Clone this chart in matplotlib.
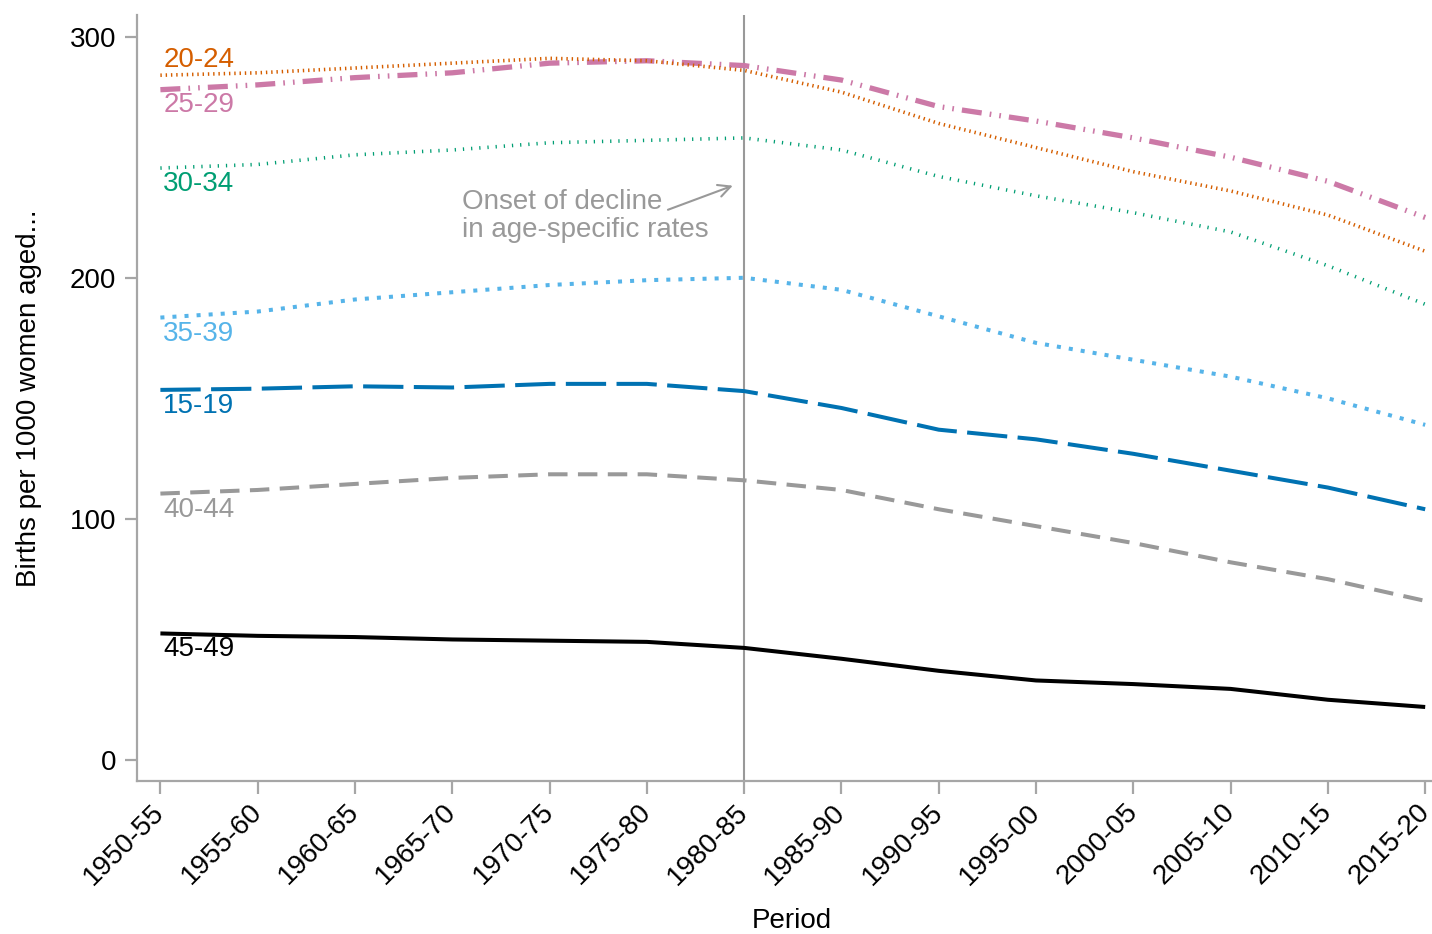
import matplotlib
matplotlib.use("Agg")
import matplotlib.pyplot as plt
from matplotlib.transforms import ScaledTranslation

plt.rcParams['font.family'] = ['Liberation Sans', 'DejaVu Sans']
plt.rcParams['lines.scale_dashes'] = False

periods = ["1950-55", "1955-60", "1960-65", "1965-70", "1970-75", "1975-80", "1980-85",
           "1985-90", "1990-95", "1995-00", "2000-05", "2005-10", "2010-15", "2015-20"]

age_15_19 = [153.5, 154, 155, 154.5, 156, 156, 153, 146, 137, 133, 127, 120, 113, 104]
age_20_24 = [284, 285, 287, 289, 291, 290, 286, 277, 264, 254, 244, 236, 226, 211]
age_25_29 = [278, 280, 283, 285, 289, 290, 288, 282, 271, 265, 258, 250, 240, 225]
age_30_34 = [245.5, 247, 251, 253, 256, 257, 258, 253, 242, 234, 227, 219, 205, 189]
age_35_39 = [183.5, 186, 191, 194, 197, 199, 200, 195, 184, 173, 166, 159, 150, 139]
age_40_44 = [110.5, 112, 114.5, 117, 118.5, 118.5, 116, 112, 104, 97, 90, 82, 75, 66]
age_45_49 = [52.5, 51.5, 51, 50, 49.5, 49, 46.5, 42, 37, 33, 31.5, 29.5, 25, 22]

series = [
    ("25-29", age_25_29, "#CC79A7", 3.8, (0, (14.4, 5.8, 1.2, 5.8, 1.2, 5.8)), -11),
    ("20-24", age_20_24, "#D55E00", 2.6, (0, (1.0, 2.8)), 11),
    ("30-34", age_30_34, "#009E73", 2.6, (0, (0.9, 5.0)), -11.5),
    ("35-39", age_35_39, "#56B4E9", 2.9, (0, (2.9, 5.8)), -11.5),
    ("15-19", age_15_19, "#0072B2", 2.9, (0, (29, 7.5)), -11.5),
    ("40-44", age_40_44, "#999999", 2.9, (0, (14, 7.5)), -11.5),
    ("45-49", age_45_49, "#000000", 2.9, "-", -11),
]

FS = 20

fig = plt.figure(figsize=(14.32, 9.34), dpi=100)
ax = fig.add_axes([0.0957, 0.1638, 0.9043, 0.8202])

x = list(range(len(periods)))
for label, vals, color, lw, ls, dy in series:
    ax.plot(x, vals, color=color, lw=lw, linestyle=ls, solid_capstyle='butt',
            dash_capstyle='butt')
    ax.annotate(label, xy=(0, vals[0]), xytext=(2, dy), textcoords='offset points',
                ha='left', va='center', color=color, fontsize=FS)

ax.axvline(6, color='#999999', lw=1.5, zorder=0)

ax.annotate("", xy=(5.91, 238.6), xytext=(5.19, 227.8),
            arrowprops=dict(arrowstyle='->', color='#999999', lw=1.5,
                            mutation_scale=22))
ax.text(3.1, 237.0, "Onset of decline\nin age-specific rates", color='#999999',
        fontsize=FS, ha='left', va='top', linespacing=1.1)

ax.set_xlim(-0.24, 13.07)
ax.set_ylim(-8.7, 309)
ax.set_xticks(x)
ax.set_yticks([0, 100, 200, 300])
ax.set_yticklabels(["0", "100", "200", "300"], fontsize=FS)
for s in ['top', 'right']:
    ax.spines[s].set_visible(False)
for s in ['left', 'bottom']:
    ax.spines[s].set_color('#a6a6a6')
    ax.spines[s].set_linewidth(1.6)
ax.tick_params(axis='both', colors='#a6a6a6', labelcolor='black', length=9, width=1.6)
ax.tick_params(axis='x', pad=4)
ax.tick_params(axis='y', pad=6)
ax.set_xticklabels(periods, rotation=45, ha='right', va='top', rotation_mode='anchor',
                   fontsize=FS)
shift = ScaledTranslation(-9 / 100, 0, fig.dpi_scale_trans)
for lab in ax.get_xticklabels():
    lab.set_transform(lab.get_transform() + shift)
fig.text(792 / 1432, 1 - 921 / 934, "Period", fontsize=FS, ha='center', va='center')
ax.set_ylabel("Births per 1000 women aged...", fontsize=FS, labelpad=20)

fig.savefig("out.png", dpi=100)
